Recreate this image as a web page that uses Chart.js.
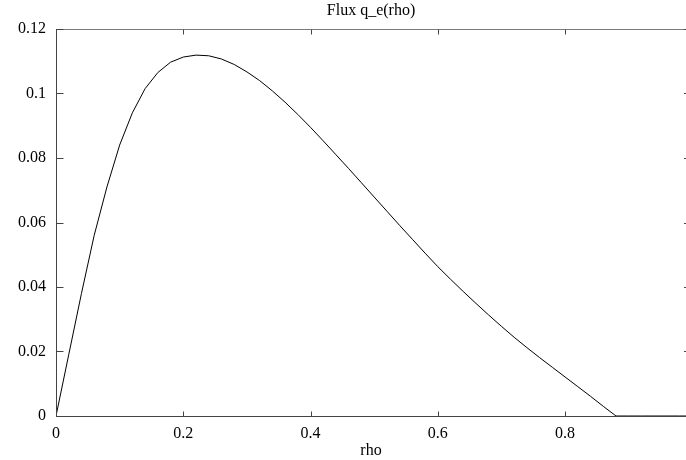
<!DOCTYPE html>
<html>
<head>
<meta charset="utf-8">
<script src="https://cdn.jsdelivr.net/npm/chart.js@4/dist/chart.umd.min.js"></script>
<style>
  html, body { margin: 0; padding: 0; background: #fff; }
  #wrap { width: 686px; height: 460px; }
</style>
</head>
<body>
<div id="wrap"><canvas id="c" width="686" height="460"></canvas></div>
<script>
// ---- data ----
const rho = [0, 0.02, 0.04, 0.06, 0.08, 0.10, 0.12, 0.14, 0.16, 0.18, 0.20, 0.22, 0.24, 0.26, 0.28, 0.30,
  0.32, 0.34, 0.36, 0.38, 0.40, 0.42, 0.44, 0.46, 0.48, 0.50, 0.52, 0.54, 0.56, 0.58, 0.60,
  0.62, 0.64, 0.66, 0.68, 0.70, 0.72, 0.74, 0.76, 0.78, 0.80, 0.82, 0.84, 0.86, 0.88,
  0.90, 0.92, 0.94, 0.96, 0.98, 0.99];
const flux = [0, 0.0190, 0.0380, 0.0560, 0.0710, 0.0840, 0.0940, 0.1015, 0.1065, 0.1097, 0.1113, 0.1119, 0.1117, 0.1107, 0.1090, 0.1067,
  0.1040, 0.1008, 0.0973, 0.0935, 0.0895, 0.0853, 0.0810, 0.0767, 0.0723, 0.0679, 0.0635, 0.0591, 0.0548, 0.0505, 0.0463,
  0.0424, 0.0386, 0.0349, 0.0313, 0.0278, 0.0244, 0.0212, 0.0181, 0.0151, 0.0121, 0.0091, 0.0061, 0.0030, 0,
  0, 0, 0, 0, 0, 0];
const xTickValues = [0, 0.2, 0.4, 0.6, 0.8];
const xTickLabels = ['0', '0.2', '0.4', '0.6', '0.8'];
const yTickValues = [0, 0.02, 0.04, 0.06, 0.08, 0.1, 0.12];
const yTickLabels = ['0', '0.02', '0.04', '0.06', '0.08', '0.1', '0.12'];
const titleText = 'Flux q_e(rho)';
const xTitle = 'rho';

const FONT = 'Liberation Serif';

const framePlugin = {
  id: 'frame',
  afterDatasetsDraw(chart) {
    const { ctx, chartArea: a, scales: { x, y } } = chart;
    const seg = (x1, y1, x2, y2) => { ctx.beginPath(); ctx.moveTo(x1, y1); ctx.lineTo(x2, y2); ctx.stroke(); };
    ctx.save();
    ctx.lineWidth = 1;
    ctx.strokeStyle = '#7a7a7a';
    seg(a.left, Math.round(a.top) + 0.5, a.right, Math.round(a.top) + 0.5);
    ctx.strokeStyle = '#444';
    const L = Math.round(a.left) + 0.5, B = Math.round(a.bottom) + 0.5, T = Math.round(a.top) + 0.5;
    seg(L, a.top, L, a.bottom + 1);
    seg(a.left, B, a.right, B);
    yTickValues.forEach(v => {
      const py = Math.round(y.getPixelForValue(v)) + 0.5;
      seg(L, py, L + 7, py);
      seg(a.right - 2, py, a.right, py);
    });
    xTickValues.forEach(v => {
      const px = Math.round(x.getPixelForValue(v)) + 0.5;
      seg(px, B, px, B - 5);
      seg(px, T, px, T + 5);
    });
    ctx.restore();
  }
};

new Chart(document.getElementById('c'), {
  type: 'scatter',
  data: {
    datasets: [{
      data: rho.map((r, i) => ({ x: r, y: flux[i] })),
      showLine: true,
      borderColor: '#000',
      borderWidth: 1,
      pointRadius: 0,
      tension: 0,
      fill: false
    }]
  },
  options: {
    responsive: false,
    devicePixelRatio: 1,
    animation: false,
    layout: { padding: { left: 0, right: 0, top: 0, bottom: 0 } },
    plugins: {
      legend: { display: false },
      tooltip: { enabled: false },
      title: {
        display: true,
        fullSize: false,
        text: titleText,
        color: '#000',
        font: { family: FONT, size: 16, weight: 'normal' },
        padding: { top: 1, bottom: 8.8 }
      }
    },
    scales: {
      x: {
        type: 'linear',
        min: 0,
        max: 0.99,
        grid: { display: false, drawTicks: false },
        border: { display: false },
        afterBuildTicks: s => { s.ticks = xTickValues.map(v => ({ value: v })); },
        afterFit: s => { s.height = 44; },
        ticks: {
          color: '#000',
          font: { family: FONT, size: 16 },
          padding: 8,
          maxRotation: 0,
          callback: (v) => { const i = xTickValues.indexOf(v); return i >= 0 ? xTickLabels[i] : ''; }
        },
        title: {
          display: true,
          text: xTitle,
          color: '#000',
          font: { family: FONT, size: 16 },
          padding: { top: -6, bottom: 0 }
        }
      },
      y: {
        type: 'linear',
        min: 0,
        max: 0.12,
        grid: { display: false, drawTicks: false },
        border: { display: false },
        afterBuildTicks: s => { s.ticks = yTickValues.map(v => ({ value: v })); },
        afterFit: s => { s.width = 56; },
        ticks: {
          color: '#000',
          font: { family: FONT, size: 16 },
          padding: 10,
          callback: (v) => { const i = yTickValues.indexOf(v); return i >= 0 ? yTickLabels[i] : ''; }
        }
      }
    }
  },
  plugins: [framePlugin]
});
</script>
</body>
</html>
